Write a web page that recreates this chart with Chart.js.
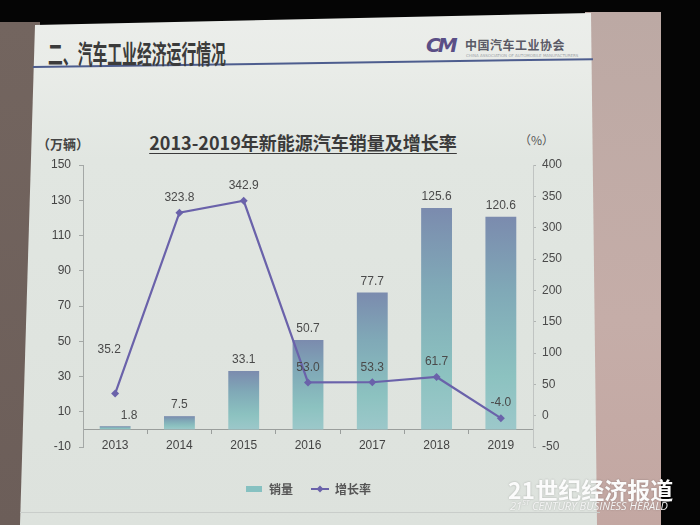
<!DOCTYPE html>
<html>
<head>
<meta charset="utf-8">
<script src="https://cdn.jsdelivr.net/npm/chart.js@4/dist/chart.umd.min.js"></script>
<style>
  body { margin: 0; background: #050505; }
  #stage { position: relative; width: 700px; height: 525px; overflow: hidden; background: #050505; }
  #leftWall { position: absolute; left: 0; top: 22px; width: 40px; height: 503px; background: linear-gradient(180deg, #73655f, #6c5e59); }
  #rightWall { position: absolute; left: 585px; top: 12px; width: 76px; height: 513px; background: linear-gradient(180deg, #bca9a4, #c5ada8 60%, #c3a7a2); }
  #slide { position: absolute; left: 0; top: 0; width: 700px; height: 525px;
    background: linear-gradient(180deg, #eceeeb 0px, #e9ece8 70px, #e1e6e1 160px, #dde2dd 525px);
    clip-path: polygon(35px 25px, 591px 13px, 597px 525px, 20px 525px); }
  #headLine { position: absolute; left: 33px; top: 66px; width: 560px; height: 2px; background: #4d5d8e; transform: rotate(-0.8deg); transform-origin: left center; }
  #headTitle { position: absolute; left: 48px; top: 34px; font: bold 26px "Noto Sans CJK SC", sans-serif; color: #3b3b3b; transform: scaleX(0.57); transform-origin: left top; white-space: nowrap; }
  #logoMark { position: absolute; left: 426px; top: 33px; font: italic bold 20px "DejaVu Sans", sans-serif; color: #5a4f86; letter-spacing: -3px; }
  #logoText { position: absolute; left: 465px; top: 36px; font: bold 12px "Noto Sans CJK SC", sans-serif; color: #5a5a66; letter-spacing: 0.5px; }
  #logoSub { position: absolute; left: 466px; top: 53px; font: 4px "DejaVu Sans", sans-serif; color: #a0a4a8; white-space: nowrap; }
  #chartTitle { position: absolute; left: 0; width: 606px; top: 129px; text-align: center; font: bold 18px "Noto Sans CJK SC", sans-serif; color: #3a3a3a; text-decoration: underline; text-underline-offset: 3px; }
  #unitLeft { position: absolute; left: 37px; top: 134px; font: bold 13px "Noto Sans CJK SC", sans-serif; color: #444; }
  #unitRight { position: absolute; left: 519px; top: 131px; font: 12px "Noto Sans CJK SC", sans-serif; color: #555; }
  #footLine { position: absolute; left: 20px; top: 512px; width: 580px; height: 1px; background: #c9cdca; }
  #chartBox { position: absolute; left: 0; top: 0; width: 700px; height: 525px; }
  #mark { position: absolute; left: 508px; top: 472px; font: bold 23px "Noto Sans CJK SC", serif; color: #fbfbfb; text-shadow: 0 0 2px rgba(0,0,0,0.25); white-space: nowrap; }
  #markSub { position: absolute; left: 510px; top: 498px; font: italic 11px "Open Sans", "DejaVu Sans", sans-serif; color: #f4f4f4; white-space: nowrap; text-shadow: 0 0 2px rgba(0,0,0,0.25); }
  #markSub sup { font-size: 7px; }
</style>
</head>
<body>
<div id="stage">
  <div id="leftWall"></div>
  <div id="rightWall"></div>
  <div id="slide"></div>
  <div id="headLine"></div>
  <div id="headTitle">二、汽车工业经济运行情况</div>
  <div id="logoMark">CM</div>
  <div id="logoText">中国汽车工业协会</div>
  <div id="logoSub">CHINA ASSOCIATION OF AUTOMOBILE MANUFACTURERS</div>
  <div id="footLine"></div>
  <div id="chartTitle">2013-2019年新能源汽车销量及增长率</div>
  <div id="unitLeft">（万辆）</div>
  <div id="unitRight">（%）</div>
  <div id="chartBox"><canvas id="chart"></canvas></div>
  <div id="mark">21世纪经济报道</div>
  <div id="markSub">21<sup>ST</sup> CENTURY BUSINESS HERALD</div>
</div>
<script>
// 数据
const years = ['2013', '2014', '2015', '2016', '2017', '2018', '2019'];
const salesValues = [1.8, 7.5, 33.1, 50.7, 77.7, 125.6, 120.6];      // 销量（万辆）
const growthValues = [35.2, 323.8, 342.9, 53.0, 53.3, 61.7, -4.0];   // 增长率（%）
const salesTicks = [-10, 10, 30, 50, 70, 90, 110, 130, 150];
const growthTicks = [-50, 0, 50, 100, 150, 200, 250, 300, 350, 400];

const numFont = "'Liberation Sans', 'DejaVu Sans', sans-serif";
const lineColor = '#6a62aa';

// 图例小图标
const makeIcon = (w, h, draw) => {
    const c = document.createElement('canvas');
    c.width = w;
    c.height = h;
    draw(c.getContext('2d'));
    return c;
};
const barIcon = makeIcon(16, 6, g => {
    g.fillStyle = '#86c1c1';
    g.fillRect(0, 0, 16, 6);
});
const lineIcon = makeIcon(18, 8, g => {
    g.strokeStyle = lineColor;
    g.lineWidth = 2;
    g.beginPath();
    g.moveTo(0, 4);
    g.lineTo(18, 4);
    g.stroke();
    g.fillStyle = lineColor;
    g.beginPath();
    g.moveTo(9, 0.5); g.lineTo(12.5, 4); g.lineTo(9, 7.5); g.lineTo(5.5, 4);
    g.closePath();
    g.fill();
});

// 柱子渐变
const barGradient = (context) => {
    const chart = context.chart;
    const { ctx, chartArea, scales } = chart;
    if (!chartArea || context.dataIndex === undefined || !scales.y) {
        return '#86c1c1';
    }
    const top = scales.y.getPixelForValue(context.raw);
    const base = scales.y.getPixelForValue(0);
    const g = ctx.createLinearGradient(0, top, 0, base);
    g.addColorStop(0, '#7b8bae');
    g.addColorStop(0.35, '#80a9b7');
    g.addColorStop(0.75, '#8cc2c0');
    g.addColorStop(1, '#9cc8ca');
    return g;
};

// 数值标签
const valueLabels = {
    id: 'valueLabels',
    afterDatasetsDraw(chart) {
        const { ctx } = chart;
        ctx.save();
        ctx.font = '12px ' + numFont;
        ctx.fillStyle = '#4a4a4a';
        ctx.textAlign = 'center';
        ctx.textBaseline = 'bottom';
        chart.getDatasetMeta(0).data.forEach((bar, i) => {
            // 第一根柱子很矮，标签放到右上方
            const dx = i === 0 ? 14 : 0;
            ctx.fillText(salesValues[i].toFixed(1), bar.x + dx, bar.y - 5);
        });
        chart.getDatasetMeta(1).data.forEach((pt, i) => {
            // 第一个点的标签避开上升的折线
            const dx = i === 0 ? -6 : 0;
            const dy = i === 0 ? 38 : 9;
            ctx.fillText(growthValues[i].toFixed(1), pt.x + dx, pt.y - dy);
        });
        ctx.restore();
    }
};

const ctx = document.getElementById('chart').getContext('2d');
new Chart(ctx, {
    type: 'bar',
    data: {
        labels: years,
        datasets: [{
            type: 'bar',
            label: '销量',
            data: salesValues,
            yAxisID: 'y',
            backgroundColor: barGradient,
            barPercentage: 0.48,
            categoryPercentage: 1,
            order: 2
        }, {
            type: 'line',
            label: '增长率',
            data: growthValues,
            yAxisID: 'y1',
            borderColor: lineColor,
            borderWidth: 2.2,
            backgroundColor: lineColor,
            pointStyle: 'rectRot',
            pointRadius: 4,
            pointBackgroundColor: lineColor,
            pointBorderWidth: 0,
            tension: 0,
            order: 1
        }]
    },
    options: {
        responsive: true,
        maintainAspectRatio: false,
        animation: false,
        layout: {
            padding: { top: 165, right: 107, bottom: 20, left: 0 }
        },
        scales: {
            x: {
                position: { y: 0 },
                grid: { display: true, offset: true, drawOnChartArea: false, tickLength: 4, color: '#9a9e9c' },
                border: { color: '#9a9e9c', width: 1 },
                ticks: { font: { size: 12, family: numFont }, color: '#444', padding: 5 }
            },
            y: {
                position: 'left',
                min: -10,
                max: 150,
                afterBuildTicks: (scale) => { scale.ticks = salesTicks.map(v => ({ value: v })); },
                afterFit: (scale) => { scale.width = 83; },
                grid: { drawOnChartArea: false, tickLength: 4, color: '#a4a8a6' },
                border: { color: '#a4a8a6' },
                ticks: { font: { size: 12, family: numFont }, color: '#444', padding: 8 }
            },
            y1: {
                position: 'right',
                min: -50,
                max: 400,
                afterBuildTicks: (scale) => { scale.ticks = growthTicks.map(v => ({ value: v })); },
                afterFit: (scale) => { scale.width = 60; },
                grid: { drawOnChartArea: false, tickLength: 3, color: '#b0b4b2' },
                border: { color: '#c0c4c2' },
                ticks: { font: { size: 12, family: numFont }, color: '#4a4a4a', padding: 6 }
            }
        },
        plugins: {
            legend: {
                position: 'bottom',
                fullSize: false,
                title: { display: true, text: '', font: { size: 10 }, padding: { top: 6, bottom: 0 } },
                labels: {
                    usePointStyle: true,
                    pointStyleWidth: 18,
                    boxHeight: 8,
                    padding: 18,
                    color: '#555',
                    font: { size: 12, weight: 'bold', family: "'Noto Sans CJK SC', sans-serif" },
                    generateLabels: (chart) => chart.data.datasets.map((ds, i) => ({
                        text: ds.label,
                        pointStyle: i === 0 ? barIcon : lineIcon,
                        fillStyle: i === 0 ? '#86c1c1' : lineColor,
                        strokeStyle: 'transparent',
                        lineWidth: 0,
                        fontColor: '#555',
                        hidden: false,
                        datasetIndex: i
                    }))
                }
            },
            tooltip: { enabled: false }
        }
    },
    plugins: [valueLabels]
});
</script>
</body>
</html>
